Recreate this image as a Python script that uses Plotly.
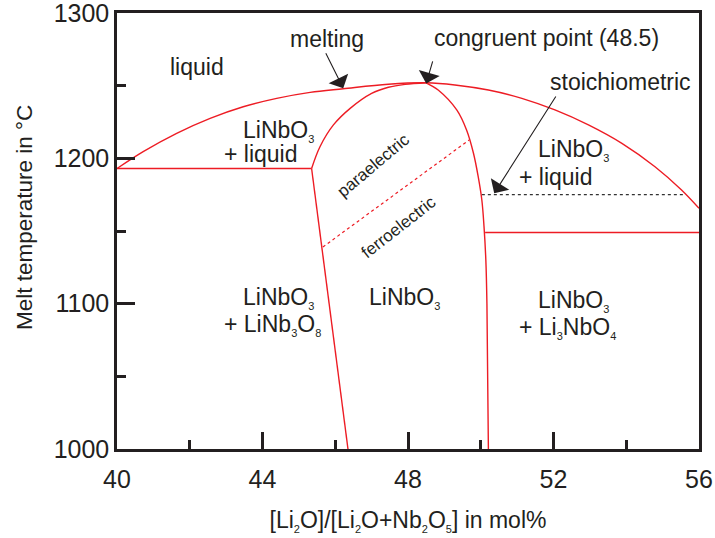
import plotly.graph_objects as go

# ---- data ----
liq_x = [40.0, 40.72, 41.64, 42.56, 43.47, 44.39, 45.31, 46.22, 47.46, 48.5, 49.29, 50.21, 51.13, 52.04, 52.96, 53.88, 54.79, 55.52, 56.0]
liq_y = [1193, 1204.6, 1217.2, 1227.5, 1235.5, 1241.3, 1245.4, 1247.9, 1251, 1252, 1250.5, 1247, 1241.3, 1233.3, 1223, 1210.3, 1194.2, 1178.2, 1165.6]

left_sol_x = [46.35, 45.35, 45.58, 45.95, 46.41, 47.0, 47.46, 47.92, 48.5]
left_sol_y = [1000, 1193, 1208, 1223, 1234.4, 1244.7, 1248.9, 1250.9, 1252]

right_sol_x = [48.5, 48.83, 49.34, 49.61, 49.8, 49.93, 50.03, 50.09, 50.14, 50.17, 50.21]
right_sol_y = [1252, 1247, 1233.3, 1219.5, 1203.5, 1187.4, 1171.3, 1153, 1130, 1100, 1000]

left_eut_x = [40.0, 45.35]
left_eut_y = [1193, 1193]
right_eut_x = [50.12, 56.0]
right_eut_y = [1149, 1149]

stoich_x = [50.03, 55.6]
stoich_y = [1175, 1175]

curie_x = [45.66, 49.68]
curie_y = [1139, 1212.6]

x_ticks = [40, 44, 48, 52, 56]
y_ticks = [1000, 1100, 1200, 1300]

def s(t):
    return "<sub><span style='font-size:11px'>" + t + "</span></sub>"

# region labels: (text, x-left, y-center)
labels = [
    ("liquid", 41.40, 1263),
    ("melting", 44.70, 1282),
    ("congruent point (48.5)", 48.66, 1283),
    ("stoichiometric", 51.85, 1252.5),
    ("LiNbO" + s("3"), 43.40, 1219),
    ("+ liquid", 42.88, 1203),
    ("LiNbO" + s("3"), 51.52, 1206),
    ("+ liquid", 51.0, 1187),
    ("LiNbO" + s("3"), 43.40, 1104),
    ("+ LiNb" + s("3") + "O" + s("8"), 42.88, 1085),
    ("LiNbO" + s("3"), 46.88, 1104),
    ("LiNbO" + s("3"), 51.52, 1102),
    ("+ Li" + s("3") + "NbO" + s("4"), 51.0, 1083),
]
rot_labels = [
    ("paraelectric", 47.04, 1195.4, -40),
    ("ferroelectric", 47.73, 1152.7, -38),
]
# arrows: (tip x, tip y, tail x, tail y)
arrows = [
    (46.22, 1248.2, 45.72, 1273.4),
    (48.5, 1251.5, 48.69, 1267.7),
    (50.37, 1176.0, 52.09, 1243.6),
]

RED = "#ed1c24"
INK = "#231f20"
FONT = "Arial, Liberation Sans, sans-serif"

fig = go.Figure()

def add_line(xs, ys, color=RED, width=1.4, dash="solid", shape="linear"):
    fig.add_trace(go.Scatter(x=xs, y=ys, mode="lines",
                             line=dict(color=color, width=width, dash=dash, shape=shape),
                             hoverinfo="skip", showlegend=False))

add_line(liq_x, liq_y, shape="spline")
add_line(left_sol_x[1:], left_sol_y[1:], shape="spline")
add_line(left_sol_x[:2], left_sol_y[:2])
add_line(right_sol_x, right_sol_y, shape="spline")
add_line(left_eut_x, left_eut_y)
add_line(right_eut_x, right_eut_y)
add_line(curie_x, curie_y, width=1.2, dash="dot")
add_line(stoich_x, stoich_y, color="#333333", width=1.3, dash="dot")

for txt, x, y in labels:
    fig.add_annotation(x=x, y=y, text=txt, showarrow=False, xanchor="left", yanchor="middle",
                       font=dict(family=FONT, size=23, color=INK))
for txt, x, y, ang in rot_labels:
    fig.add_annotation(x=x, y=y, text=txt, showarrow=False, textangle=ang,
                       font=dict(family=FONT, size=17, color=INK))
for tx, ty, sx, sy in arrows:
    fig.add_annotation(x=tx, y=ty, ax=sx, ay=sy, axref="x", ayref="y", text="",
                       showarrow=True, arrowhead=1, arrowsize=3.3, arrowwidth=1.1, arrowcolor=INK)

# y-axis title (placed slightly above the axis centre, as in the reference)
fig.add_annotation(xref="paper", yref="paper", x=-0.158, y=0.53, text="Melt temperature in °C",
                   textangle=-90, showarrow=False, xanchor="center", yanchor="middle",
                   font=dict(family=FONT, size=22.5, color=INK))

axis_common = dict(showgrid=False, zeroline=False, showline=True, linecolor=INK, linewidth=2.5,
                   mirror=True, ticks="inside", tickcolor=INK, tickwidth=2.5, automargin=False,
                   ticklabeloverflow="allow",
                   tickfont=dict(family=FONT, size=25, color=INK))

fig.update_xaxes(range=[40, 56], tickvals=x_ticks, ticklen=17, ticklabelstandoff=6,
                 minor=dict(ticks="inside", ticklen=9, tickwidth=2.5, tickcolor=INK, dtick=2, tick0=40),
                 title=dict(text="[Li" + s("2") + "O]/[Li" + s("2") + "O+Nb" + s("2") + "O" + s("5") + "] in mol%",
                            font=dict(family=FONT, size=23, color=INK), standoff=21),
                 **axis_common)
fig.update_yaxes(range=[1000, 1300], tickvals=y_ticks, ticklen=18,
                 minor=dict(ticks="inside", ticklen=9, tickwidth=2.5, tickcolor=INK, dtick=50, tick0=1000),
                 **axis_common)

fig.update_layout(width=715, height=538, margin=dict(l=117, r=16, t=13, b=89),
                  plot_bgcolor="white", paper_bgcolor="white")

fig.write_html("out.html")
